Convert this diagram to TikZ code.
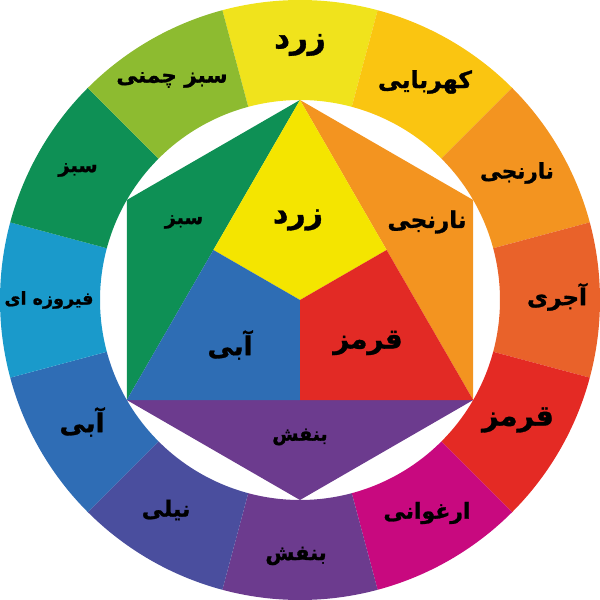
\documentclass[tikz,border=0pt]{standalone}
\usepackage{fontspec}
\usetikzlibrary{calc}
\TeXXeTstate=1
\newfontfamily\farsifont[Script=Arabic, BoldFeatures={FakeBold=1.2}]{DejaVu Sans}
\definecolor{cY}{HTML}{F0E31C}
\definecolor{cYO}{HTML}{FAC511}
\definecolor{cO}{HTML}{F39420}
\definecolor{cRO}{HTML}{E9622A}
\definecolor{cR}{HTML}{E42A24}
\definecolor{cRV}{HTML}{C8097F}
\definecolor{cV}{HTML}{6C3B8E}
\definecolor{cBV}{HTML}{4A4E9E}
\definecolor{cB}{HTML}{2F6DB5}
\definecolor{cBG}{HTML}{1A9ACB}
\definecolor{cG}{HTML}{0E9055}
\definecolor{cYG}{HTML}{8DBB30}
\definecolor{iY}{HTML}{F4E500}
\definecolor{iR}{HTML}{E22A25}
\definecolor{iB}{HTML}{2E6DB4}
\tikzset{
  lab/.style={font=\farsifont\bfseries\fontsize{#1}{#1}\selectfont, inner sep=0pt, text=black}
}
\begin{document}
\begin{tikzpicture}[x=1pt,y=1pt]
\useasboundingbox (-300,-300) rectangle (300,300);
% ring segments
\foreach \a/\c in {90/cY,60/cYO,30/cO,0/cRO,-30/cR,-60/cRV,-90/cV,-120/cBV,-150/cB,180/cBG,150/cG,120/cYG}{
  \fill[\c] (\a-15:300) arc[start angle=\a-15, end angle=\a+15, radius=300]
     -- (\a+15:200) arc[start angle=\a+15, end angle=\a-15, radius=200] -- cycle;
}
% hexagon corners
\coordinate (T) at (90:200);
\coordinate (UR) at (30:200);
\coordinate (LR) at (-30:200);
\coordinate (B) at (-90:200);
\coordinate (LL) at (210:200);
\coordinate (UL) at (150:200);
\coordinate (C) at (0,0);
\coordinate (MR) at ($(T)!0.5!(LR)$);
\coordinate (ML) at ($(T)!0.5!(LL)$);
\coordinate (MB) at ($(LL)!0.5!(LR)$);
% outer triangles
\fill[cG] (T) -- (UL) -- (LL) -- cycle;
\fill[cO] (T) -- (UR) -- (LR) -- cycle;
\fill[cV] (LL) -- (B) -- (LR) -- cycle;
% central triangle
\fill[iY] (T) -- (MR) -- (C) -- (ML) -- cycle;
\fill[iR] (C) -- (MR) -- (LR) -- (MB) -- cycle;
\fill[iB] (C) -- (MB) -- (LL) -- (ML) -- cycle;
% ring labels
\node[lab=31]   (rY)  at (0,255)    {\beginR زرد\endR};
\node[lab=23.5] (rYO) at (125,218)  {\beginR کهربایی\endR};
\node[lab=21.5] (rO)  at (217,127)  {\beginR نارنجی\endR};
\node[lab=23]   (rRO) at (257,3)    {\beginR آجری\endR};
\node[lab=28.5] (rR)  at (218,-120) {\beginR قرمز\endR};
\node[lab=22]   (rRV) at (127,-213) {\beginR ارغوانی\endR};
\node[lab=21]   (rV)  at (-4,-256)  {\beginR بنفش\endR};
\node[lab=22]   (rBV) at (-134,-210){\beginR نیلی\endR};
\node[lab=26]   (rB)  at (-218,-122){\beginR آبی\endR};
\node[lab=17.5] (rBG) at (-251,0)   {\beginR فیروزه ای\endR};
\node[lab=19.5] (rG)  at (-222,130) {\beginR سبز\endR};
\node[lab=21.5] (rYG) at (-128,220) {\beginR سبز چمنی\endR};
% inner labels
\node[lab=30]   (iYl) at (-2,80)    {\beginR زرد\endR};
\node[lab=19]   (iGl) at (-116,78)  {\beginR سبز\endR};
\node[lab=23]   (iOl) at (127,78)   {\beginR نارنجی\endR};
\node[lab=26]   (iBl) at (-70,-45)  {\beginR آبی\endR};
\node[lab=27.5] (iRl) at (68,-43)   {\beginR قرمز\endR};
\node[lab=19]   (iVl) at (0,-137)   {\beginR بنفش\endR};
\end{tikzpicture}
\end{document}
